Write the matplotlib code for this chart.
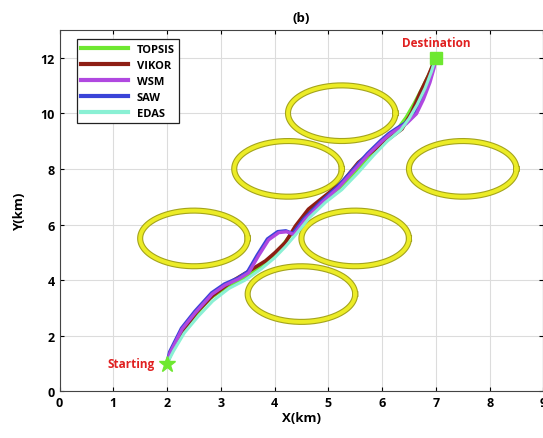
import numpy as np
import matplotlib.pyplot as plt

plt.rcParams['font.family'] = ['Open Sans', 'DejaVu Sans']

# obstacle circles (km)
obs_x = [5.25, 4.25, 7.5, 2.5, 5.5, 4.5]
obs_y = [10.0, 8.0, 8.0, 5.5, 5.5, 3.5]
obs_r = [1.0, 1.0, 1.0, 1.0, 1.0, 1.0]

start = (2, 1)
dest = (7, 12)

# paths
topsis_x = [2.0, 2.1, 2.3, 2.55, 2.8, 3.1, 3.4, 3.7, 3.95, 4.15, 4.35, 4.6, 4.9, 5.2, 5.5,
            5.8, 6.05, 6.3, 6.45, 6.6, 6.75, 6.9, 7.0]
topsis_y = [1.0, 1.5, 2.2, 2.8, 3.35, 3.75, 4.05, 4.45, 4.85, 5.25, 5.75, 6.35, 6.85, 7.3, 7.9,
            8.55, 9.0, 9.45, 9.85, 10.35, 10.9, 11.5, 12.0]

vikor_x = [2.0, 2.08, 2.3, 2.55, 2.85, 3.2, 3.58, 3.83, 4.01, 4.2, 4.39, 4.63, 4.94, 5.25,
           5.56, 5.87, 6.12, 6.37, 6.55, 6.71, 6.86, 7.0]
vikor_y = [1.0, 1.45, 2.2, 2.85, 3.45, 3.95, 4.39, 4.69, 4.99, 5.35, 5.95, 6.55, 7.03, 7.5,
           8.23, 8.71, 9.07, 9.43, 10.02, 10.74, 11.34, 12.0]

wsm_x = [2.0, 2.06, 2.28, 2.53, 2.84, 3.08, 3.33, 3.52, 3.7, 3.89, 4.08, 4.23, 4.36, 4.57,
         4.88, 5.19, 5.5, 5.75, 6.0, 6.15, 6.29, 6.45, 6.64, 6.77, 6.89, 6.97, 7.0]
wsm_y = [1.0, 1.4, 2.24, 2.84, 3.5, 3.82, 4.04, 4.27, 4.87, 5.45, 5.71, 5.74, 5.64, 6.19,
         6.79, 7.33, 7.99, 8.53, 9.0, 9.25, 9.43, 9.62, 9.98, 10.5, 11.1, 11.64, 12.0]

saw_x = [2.0, 2.05, 2.27, 2.52, 2.83, 3.07, 3.32, 3.5, 3.68, 3.87, 4.06, 4.21, 4.34, 4.55,
         4.86, 5.17, 5.48, 5.73, 5.98, 6.13, 6.27, 6.43, 6.62, 6.74, 6.86, 6.95, 7.0]
saw_y = [1.0, 1.42, 2.27, 2.88, 3.54, 3.86, 4.07, 4.3, 4.9, 5.48, 5.74, 5.77, 5.67, 6.21,
         6.81, 7.35, 8.01, 8.55, 9.02, 9.27, 9.45, 9.64, 9.98, 10.5, 11.1, 11.64, 12.0]

edas_x = [2.0, 2.12, 2.32, 2.58, 2.85, 3.15, 3.45, 3.75, 4.0, 4.2, 4.4, 4.65, 4.95, 5.25, 5.55,
          5.85, 6.1, 6.35, 6.5, 6.65, 6.8, 6.92, 7.0]
edas_y = [1.0, 1.45, 2.1, 2.7, 3.25, 3.7, 4.0, 4.4, 4.8, 5.2, 5.65, 6.25, 6.8, 7.25, 7.85,
          8.5, 9.0, 9.4, 9.8, 10.3, 10.9, 11.5, 12.0]

fig = plt.figure(figsize=(5.43, 4.39), dpi=100)
ax = fig.add_axes([0.1096, 0.106, 0.891, 0.824])

t = np.linspace(0, 2 * np.pi, 200)
for cx, cy, r in zip(obs_x, obs_y, obs_r):
    ax.plot(cx + r * np.cos(t), cy + r * np.sin(t), color='#a4a41c', lw=4.4, zorder=2)
    ax.plot(cx + r * np.cos(t), cy + r * np.sin(t), color='#ecec26', lw=2.8, zorder=2)

ax.plot(topsis_x, topsis_y, color='#6ee830', lw=2.6, label='TOPSIS', zorder=3)
ax.plot(vikor_x, vikor_y, color='#8e1e14', lw=2.6, label='VIKOR', zorder=3)
ax.plot(saw_x, saw_y, color='#3a44d8', lw=2.6, zorder=3)
ax.plot(wsm_x, wsm_y, color='#b048e0', lw=2.4, zorder=3)
ax.plot(edas_x, edas_y, color='#8af0d4', lw=2.2, label='EDAS', zorder=3)

ax.plot(*start, marker='*', ms=12, color='#6ee830', zorder=4)
ax.plot(*dest, marker='s', ms=8, color='#6ee830', zorder=4)
ax.text(start[0] - 0.22, start[1], 'Starting', color='#e02020', fontsize=8.5,
        fontweight='bold', ha='right', va='center')
ax.text(dest[0], dest[1] + 0.55, 'Destination', color='#e02020', fontsize=8.5,
        fontweight='bold', ha='center', va='center')

ax.set_xlim(0, 9)
ax.set_ylim(0, 13)
ax.set_xticks(range(0, 10))
ax.set_yticks(range(0, 13, 2))
ax.grid(True, color='#dcdcdc', lw=0.8)
ax.set_axisbelow(True)
ax.tick_params(direction='in', top=True, right=True, labelsize=9, length=3)
for lab in ax.get_xticklabels() + ax.get_yticklabels():
    lab.set_fontweight('bold')
for s in ax.spines.values():
    s.set_color('#444444')
    s.set_linewidth(0.8)

ax.set_xlabel('X(km)', fontsize=9.5, fontweight='bold', labelpad=1)
ax.set_ylabel('Y(km)', fontsize=9.5, fontweight='bold', labelpad=10)
ax.set_title('(b)', fontsize=9.5, fontweight='bold', pad=6)

# legend order as in the figure
h = ax.get_lines()
hs = [h[-7], h[-6], h[-4], h[-5], h[-3]]
ls = ['TOPSIS', 'VIKOR', 'WSM', 'SAW', 'EDAS']
leg = ax.legend(hs, ls, loc='upper left', bbox_to_anchor=(0.036, 0.974), borderaxespad=0,
                fancybox=False, edgecolor='#222222', framealpha=1, handlelength=4.2,
                labelspacing=0.45, prop={'weight': 'bold', 'size': 8})
leg.get_frame().set_linewidth(0.9)
for line in leg.get_lines():
    line.set_linewidth(3)

fig.savefig('out.png', dpi=100)
